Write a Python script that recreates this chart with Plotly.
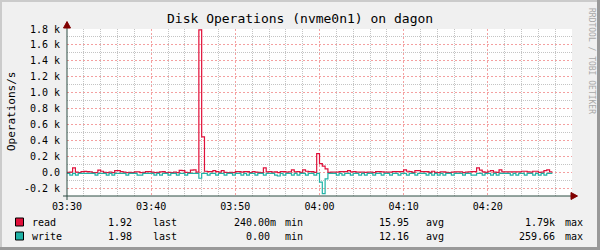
import pandas as pd
import plotly.graph_objects as go

# ---------------- data (20 s steps from 03:30:00) ----------------
read = [
    5, 8, 62, 10, 3, 15, 18, 15, 12, 3,
    3, 35, 20, 5, 3, 8, 3, 28, 28, 15,
    8, 3, 5, 3, 12, 12, 3, 5, 16, 16,
    10, 3, 5, 12, 15, 3, 5, 3, 10, 3,
    30, 28, 5, 3, 35, 37, 10, 1790, 450, 20,
    16, 16, 28, 14, 10, 28, 5, 3, 5, 3,
    14, 14, 10, 14, 14, 3, 14, 10, 5, 3,
    62, 12, 14, 10, 12, 3, 14, 14, 10, 12,
    37, 12, 14, 5, 37, 20, 16, 14, 5, 240,
    115, 85, 50, 5, 8, 8, 8, 14, 16, 16,
    28, 12, 16, 8, 8, 10, 5, 8, 10, 3,
    16, 14, 12, 8, 8, 8, 14, 14, 14, 16,
    37, 20, 14, 5, 28, 28, 16, 16, 16, 5,
    20, 5, 3, 12, 12, 5, 3, 8, 12, 12,
    12, 3, 10, 12, 14, 16, 62, 35, 12, 5,
    20, 28, 10, 5, 37, 12, 12, 12, 12, 12,
    12, 12, 20, 20, 12, 8, 20, 20, 5, 10,
    28, 38, 12,
]
write = [
    8, 28, 8, 28, 8, 8, 8, 8, 8, 8,
    28, 8, 8, 8, 28, 8, 28, 8, 8, 8,
    8, 28, 8, 8, 8, 28, 28, 8, 8, 8,
    8, 28, 8, 28, 8, 8, 28, 8, 8, 28,
    8, 8, 28, 8, 8, 8, 8, 68, 8, 8,
    28, 8, 8, 28, 8, 8, 28, 8, 8, 28,
    8, 8, 28, 8, 28, 8, 8, 28, 8, 8,
    28, 8, 8, 8, 28, 40, 8, 28, 8, 8,
    28, 8, 28, 8, 8, 28, 8, 8, 28, 8,
    117, 260, 75, 8, 8, 8, 28, 8, 28, 8,
    8, 28, 8, 8, 28, 8, 28, 8, 8, 28,
    8, 8, 28, 8, 8, 28, 8, 8, 28, 8,
    8, 28, 8, 8, 28, 8, 8, 8, 28, 8,
    28, 8, 28, 8, 28, 8, 8, 28, 8, 8,
    8, 28, 8, 8, 28, 28, 8, 8, 28, 8,
    8, 28, 8, 28, 8, 8, 8, 8, 28, 8,
    28, 8, 8, 28, 8, 8, 28, 8, 28, 8,
    28, 8, 8,
]
x_ticktext = ["03:30", "03:40", "03:50", "04:00", "04:10", "04:20", ""]
y_tickvals = [-200, 0, 200, 400, 600, 800, 1000, 1200, 1400, 1600, 1800]
y_ticktext = ["-0.2 k", "0.0", "0.2 k", "0.4 k", "0.6 k", "0.8 k", "1.0 k",
              "1.2 k", "1.4 k", "1.6 k", "1.8 k"]
legend_rows = [
    ("read", "1.92", "240.00m", "15.95", "1.79k"),
    ("write", "1.98", "0.00 ", "12.16", "259.66"),
]

# ---------------- styling ----------------
W, H = 600, 250
L, R, T, B = 67, 28, 29, 54
PW, PH = W - L - R, H - T - B
FONT = "DejaVu Sans Mono"
READ_C = "#E0103A"
WRITE_C = "#20B2A6"
MGRID = "#F4A0A0"
GRID = "#C4C4C4"
AXIS_C = "#2C4D43"
ARROW_C = "#800000"


def px(x):
    return (x - L) / PW


def py(y):
    return (H - B - y) / PH


times = pd.date_range("2024-01-01 03:30:00", periods=len(read) + 1, freq="20s")
read_y = read + [read[-1]]
write_y = [-v for v in write] + [-write[-1]]

fig = go.Figure()
fig.add_trace(go.Scatter(x=times, y=read_y, mode="lines", name="read",
                         line=dict(color=READ_C, width=1.2, shape="hv"),
                         hoverinfo="skip"))
fig.add_trace(go.Scatter(x=times, y=write_y, mode="lines", name="write",
                         line=dict(color=WRITE_C, width=1.2, shape="hv"),
                         hoverinfo="skip"))

t0 = pd.Timestamp("2024-01-01 03:30:00")
t1 = pd.Timestamp("2024-01-01 04:30:00")
xt = [t0 + pd.Timedelta(minutes=10 * i) for i in range(len(x_ticktext))]
x_minor = [t0 + pd.Timedelta(minutes=m) for m in range(2, 60, 2) if m % 10]
y_minor = [v for v in range(-200, 1801, 100) if v % 200]

fig.update_layout(
    width=W, height=H, autosize=False,
    margin=dict(l=L, r=R, t=T, b=B, pad=0),
    paper_bgcolor="#F0F0F0", plot_bgcolor="#FFFFFF",
    showlegend=False,
    font=dict(family=FONT, size=10, color="#000000"),
    xaxis=dict(
        type="date", range=[t0, t1], tickmode="array", tickvals=xt,
        ticktext=x_ticktext, showgrid=True, gridcolor=MGRID, gridwidth=1,
        griddash="2px,2px", zeroline=False, showline=False, ticks="",
        tickfont=dict(family=FONT, size=10, color="#000000"),
        ticklabelstandoff=3,
        minor=dict(tickmode="array", tickvals=x_minor, showgrid=True,
                   gridcolor=GRID, gridwidth=1, griddash="1px,1px"),
        fixedrange=True,
    ),
    yaxis=dict(
        range=[-290, 1800], tickmode="array", tickvals=y_tickvals,
        ticktext=y_ticktext, showgrid=True, gridcolor=MGRID, gridwidth=1,
        griddash="2px,2px", zeroline=False, showline=False, ticks="",
        tickfont=dict(family=FONT, size=10, color="#000000"),
        ticklabelstandoff=6,
        minor=dict(tickmode="array", tickvals=y_minor, showgrid=True,
                   gridcolor=GRID, gridwidth=1, griddash="1px,1px"),
        fixedrange=True,
    ),
)

shapes = []
# frame shading
shapes.append(dict(type="rect", xref="paper", yref="paper", x0=px(0), x1=px(2),
                   y0=py(250), y1=py(0), fillcolor="#CBCBCB", line_width=0))
shapes.append(dict(type="rect", xref="paper", yref="paper", x0=px(0), x1=px(600),
                   y0=py(2), y1=py(0), fillcolor="#CBCBCB", line_width=0))
shapes.append(dict(type="rect", xref="paper", yref="paper", x0=px(597), x1=px(600),
                   y0=py(250), y1=py(0), fillcolor="#999999", line_width=0))
shapes.append(dict(type="rect", xref="paper", yref="paper", x0=px(0), x1=px(600),
                   y0=py(250), y1=py(247), fillcolor="#999999", line_width=0))
# axes
shapes.append(dict(type="line", xref="paper", yref="paper", x0=px(63), x1=px(572),
                   y0=py(196), y1=py(196), line=dict(color=AXIS_C, width=1)))
shapes.append(dict(type="line", xref="paper", yref="paper", x0=px(67), x1=px(67),
                   y0=py(200), y1=py(27), line=dict(color=AXIS_C, width=1)))
# arrows
shapes.append(dict(type="path", xref="paper", yref="paper",
                   path=f"M {px(571)} {py(192.5)} L {px(577.5)} {py(196)} L {px(571)} {py(199.5)} Z",
                   fillcolor=ARROW_C, line=dict(color=ARROW_C, width=1)))
shapes.append(dict(type="path", xref="paper", yref="paper",
                   path=f"M {px(63.5)} {py(28)} L {px(67)} {py(21.5)} L {px(70.5)} {py(28)} Z",
                   fillcolor=ARROW_C, line=dict(color=ARROW_C, width=1)))

annotations = []


def ann(text, x, y, xanchor="left", size=10, color="#000000", angle=0):
    annotations.append(dict(text=text, x=px(x), y=py(y), xref="paper", yref="paper",
                            xanchor=xanchor, yanchor="middle", showarrow=False,
                            textangle=angle,
                            font=dict(family=FONT, size=size, color=color)))


ann("Disk Operations (nvme0n1) on dagon", 300, 19, xanchor="center", size=13)
ann("Operations/s", 11, 112, xanchor="center", size=11, angle=-90)
ann("RRDTOOL / TOBI OETIKER", 591, 61, xanchor="center", size=8,
    color="#A8A8A8", angle=90)

row_y = [222, 236]
colors = [READ_C, WRITE_C]
for (name, last, mn, avg, mx), yy, c in zip(legend_rows, row_y, colors):
    shapes.append(dict(type="rect", xref="paper", yref="paper",
                       x0=px(15.5), x1=px(23.5), y0=py(yy + 4), y1=py(yy - 4),
                       fillcolor=c, line=dict(color="#000000", width=1)))
    ann(name, 30, yy)
    ann(last, 134, yy, xanchor="right")
    ann("last", 151, yy)
    ann(mn, 278, yy, xanchor="right")
    ann("min", 283, yy)
    ann(avg, 411, yy, xanchor="right")
    ann("avg", 424, yy)
    ann(mx, 557, yy, xanchor="right")
    ann("max", 563, yy)

fig.update_layout(shapes=shapes, annotations=annotations)
fig.write_html("out.html")
